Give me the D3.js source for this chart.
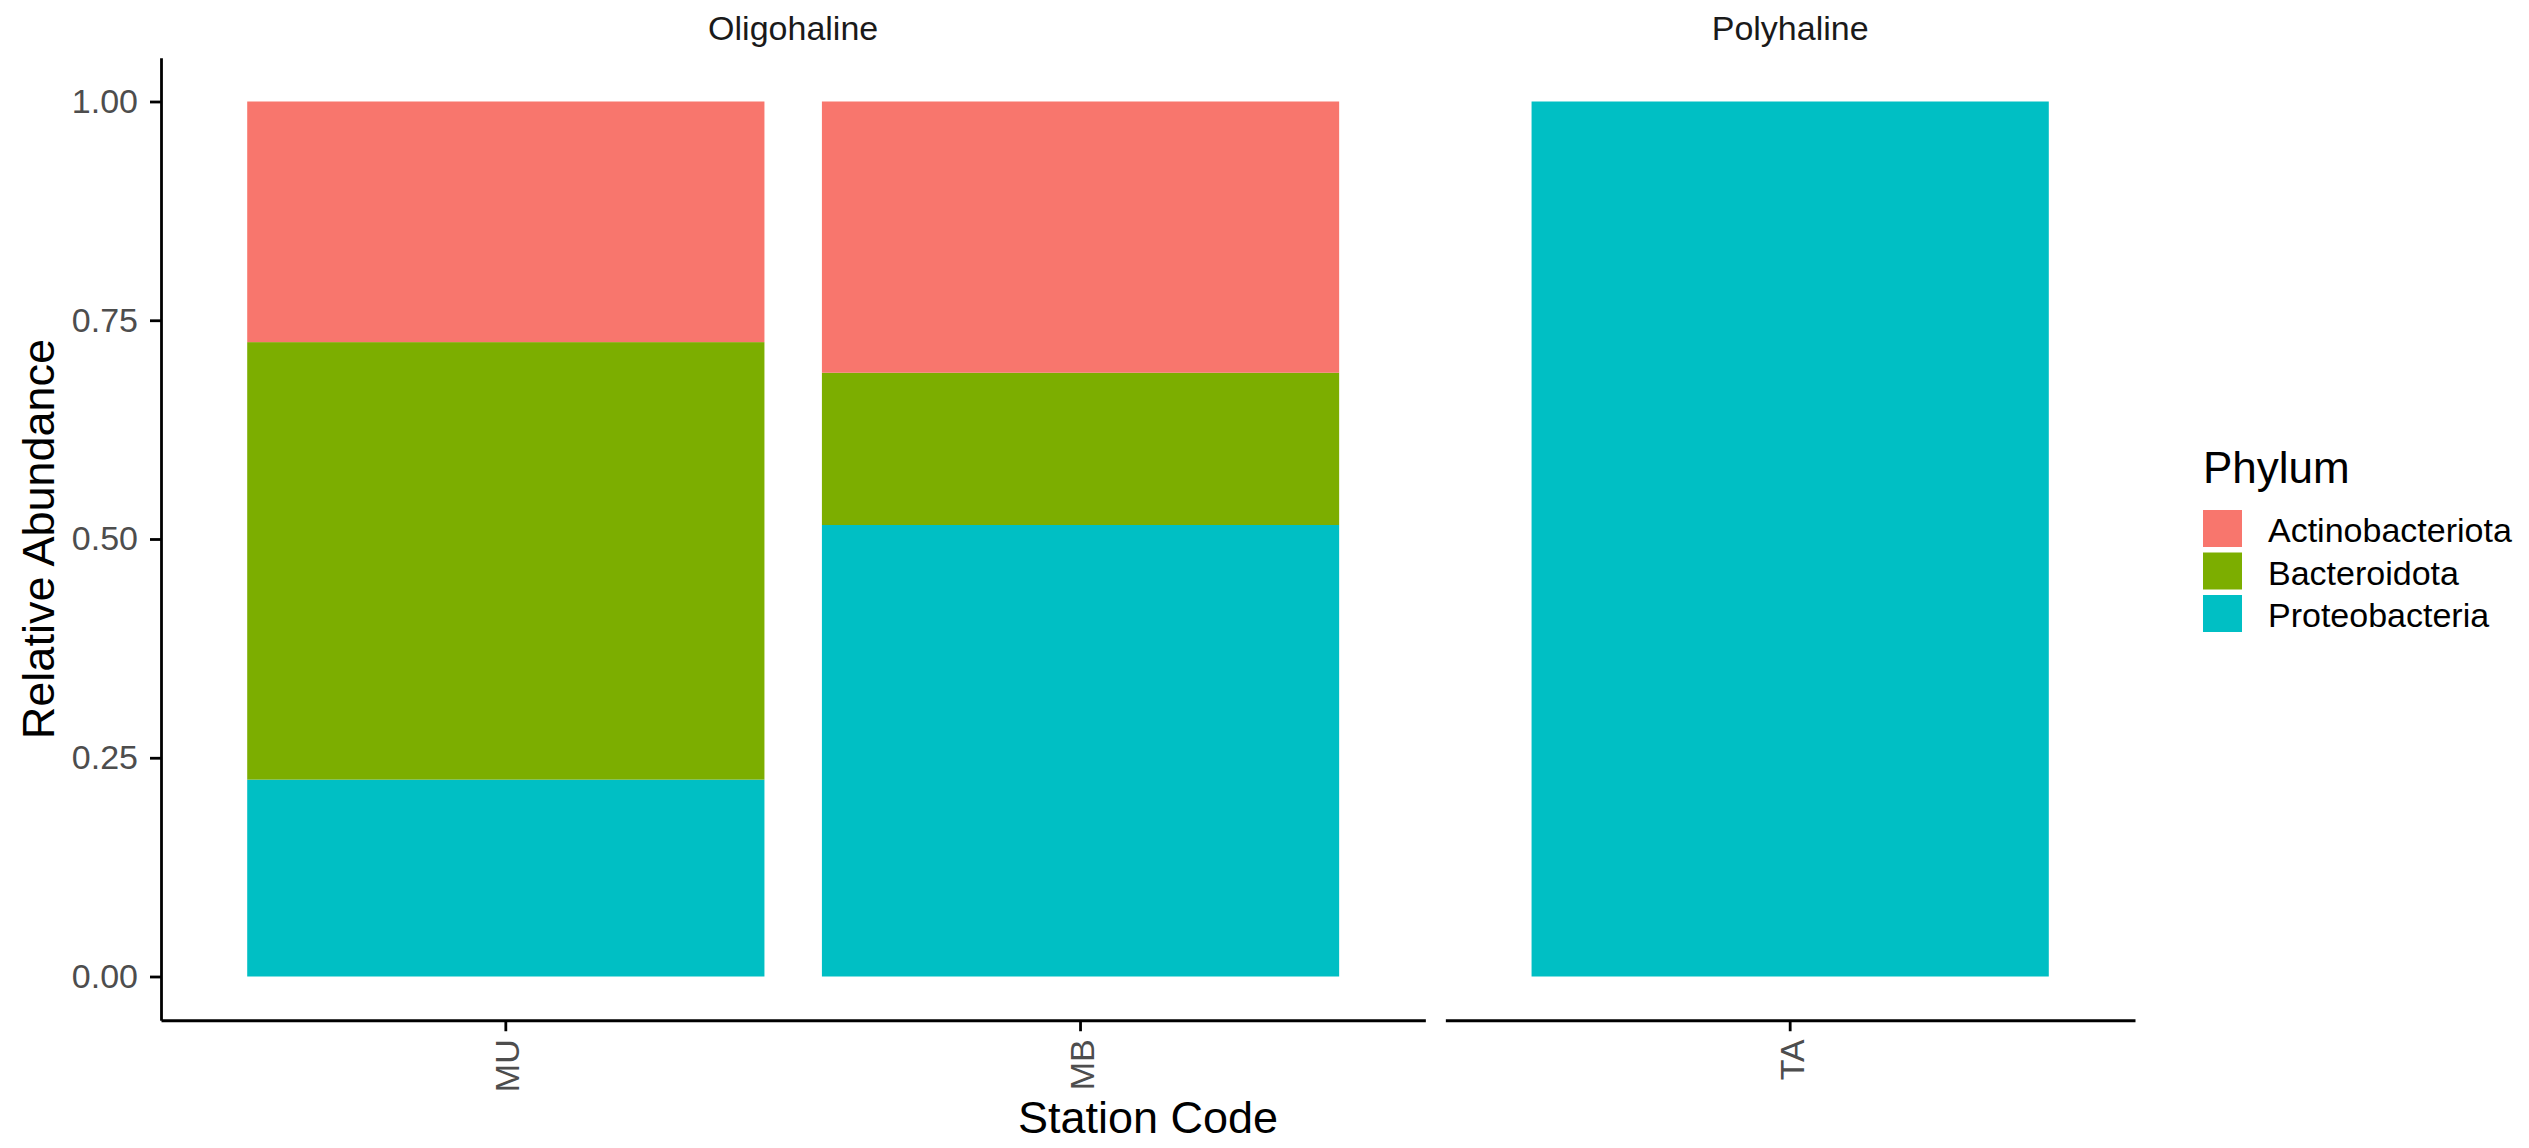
<!DOCTYPE html>
<html>
<head>
<meta charset="utf-8">
<script src="https://cdn.jsdelivr.net/npm/d3@7"></script>
<style>
  html, body { margin: 0; padding: 0; background: #ffffff; }
  svg { display: block; font-family: "Liberation Sans", Arial, sans-serif; }
</style>
</head>
<body>
<svg id="chart" width="2529" height="1148"></svg>
<script>
// ---- Data ----
const facets = ["Oligohaline", "Polyhaline"];
const stations = ["MU", "MB", "TA"];
const stationFacet = ["Oligohaline", "Oligohaline", "Polyhaline"];
const phyla = ["Actinobacteriota", "Bacteroidota", "Proteobacteria"];
const actinobacteriota = [0.275, 0.310, 0.000];
const bacteroidota = [0.500, 0.174, 0.000];
const proteobacteria = [0.225, 0.516, 1.000];
const yTicks = [0.00, 0.25, 0.50, 0.75, 1.00];
const phylumColors = ["#F8766D", "#7CAE00", "#00BFC4"];

const xTitle = "Station Code";
const yTitle = "Relative Abundance";
const legendTitle = "Phylum";

// ---- Layout ----
const svg = d3.select("#chart");
const plotLeft = 161, plotRight = 2135, plotTop = 57.75, plotBottom = 1020.25;
const panelGap = 20;
const axisColor = "#000000";
const axisWidth = 2.8;

const rows = stations.map((s, i) => ({
  station: s,
  facet: stationFacet[i],
  Actinobacteriota: actinobacteriota[i],
  Bacteroidota: bacteroidota[i],
  Proteobacteria: proteobacteria[i]
}));

const color = d3.scaleOrdinal().domain(phyla).range(phylumColors);
const y = d3.scaleLinear().domain([-0.05, 1.05]).range([plotBottom, plotTop]);

// stacked: Proteobacteria at bottom, Actinobacteriota on top
const stackOrder = phyla.slice().reverse();
const stack = d3.stack().keys(stackOrder);

// free-space panel widths: n categories, 0.1 inner padding, 0.15 outer padding each side
const facetCounts = facets.map(f => stationFacet.filter(d => d === f).length);
const facetUnits = facetCounts.map(n => n - 0.1 + 0.3);
const totalUnits = d3.sum(facetUnits);
const unitPx = (plotRight - plotLeft - panelGap * (facets.length - 1)) / totalUnits;

let cursor = plotLeft;
facets.forEach((f, fi) => {
  const w = facetUnits[fi] * unitPx;
  const x0 = cursor, x1 = cursor + w;
  cursor = x1 + panelGap;
  const fRows = rows.filter(r => r.facet === f);
  const x = d3.scaleBand()
    .domain(fRows.map(r => r.station))
    .range([x0, x1])
    .paddingInner(0.1)
    .paddingOuter(0.15);

  const series = stack(fRows);
  const g = svg.append("g");
  g.selectAll("g.layer")
    .data(series)
    .join("g")
    .attr("class", "layer")
    .attr("fill", d => color(d.key))
    .selectAll("rect")
    .data(d => d)
    .join("rect")
    .attr("x", d => x(d.data.station))
    .attr("width", x.bandwidth())
    .attr("y", d => y(d[1]))
    .attr("height", d => Math.max(0, y(d[0]) - y(d[1])));

  // strip label
  svg.append("text")
    .attr("x", (x0 + x1) / 2)
    .attr("y", 40)
    .attr("text-anchor", "middle")
    .attr("fill", "#1A1A1A")
    .style("font-size", "34px")
    .text(f);

  // x axis
  const xAxis = d3.axisBottom(x).tickSize(11).tickSizeOuter(0);
  const gx = svg.append("g")
    .attr("transform", `translate(0,${plotBottom})`)
    .call(xAxis);
  gx.select(".domain").attr("stroke", axisColor).attr("stroke-width", axisWidth);
  gx.selectAll(".tick line").attr("stroke", axisColor).attr("stroke-width", axisWidth);
  gx.selectAll(".tick text")
    .attr("transform", "rotate(-90)")
    .attr("x", -19)
    .attr("y", 0)
    .attr("dy", "0.4em")
    .style("text-anchor", "end")
    .style("font-size", "34px")
    .style("font-family", "\"Liberation Sans\", Arial, sans-serif")
    .attr("fill", "#4D4D4D");

  // y axis only on first panel
  if (fi === 0) {
    const yAxis = d3.axisLeft(y)
      .tickValues(yTicks)
      .tickFormat(d3.format(".2f"))
      .tickSize(11)
      .tickSizeOuter(0)
      .tickPadding(12);
    const gy = svg.append("g")
      .attr("transform", `translate(${plotLeft},0)`)
      .call(yAxis);
    gy.select(".domain").attr("stroke", axisColor).attr("stroke-width", axisWidth);
    gy.selectAll(".tick line").attr("stroke", axisColor).attr("stroke-width", axisWidth);
    gy.selectAll(".tick text")
      .style("font-size", "34px")
      .style("font-family", "\"Liberation Sans\", Arial, sans-serif")
      .attr("fill", "#4D4D4D");
  }
});

// axis titles
svg.append("text")
  .attr("x", (plotLeft + plotRight) / 2)
  .attr("y", 1133)
  .attr("text-anchor", "middle")
  .attr("fill", "#000")
  .style("font-size", "45px")
  .text(xTitle);

svg.append("text")
  .attr("transform", `translate(54,${(plotTop + plotBottom) / 2}) rotate(-90)`)
  .attr("text-anchor", "middle")
  .attr("fill", "#000")
  .style("font-size", "45px")
  .text(yTitle);

// legend
const legend = svg.append("g").attr("transform", "translate(2203,0)");
legend.append("text")
  .attr("x", 0)
  .attr("y", 483)
  .attr("fill", "#000")
  .style("font-size", "44px")
  .text(legendTitle);

const keyStep = 42.5, keyTop = 510, keyW = 39, keyH = 37;
const items = legend.selectAll("g.item")
  .data(phyla)
  .join("g")
  .attr("class", "item")
  .attr("transform", (d, i) => `translate(0,${keyTop + i * keyStep})`);
items.append("rect")
  .attr("width", keyW)
  .attr("height", keyH)
  .attr("fill", d => color(d));
items.append("text")
  .attr("x", 65)
  .attr("y", keyH / 2 + 2)
  .attr("dy", "0.35em")
  .attr("fill", "#000")
  .style("font-size", "34px")
  .text(d => d);
</script>
</body>
</html>
